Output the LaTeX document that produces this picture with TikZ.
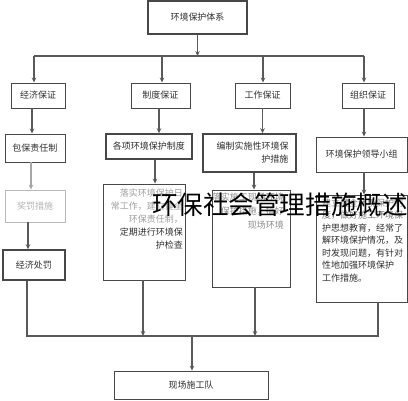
\documentclass[tikz,border=0pt]{standalone}
\usepackage{fontspec}
\newfontfamily\cjk{Noto Sans CJK SC}
\usetikzlibrary{arrows.meta}
\begin{document}
\begin{tikzpicture}[x=1pt,y=-1pt,
  box/.style={draw=black!72, line width=0.9pt, inner sep=0pt, font=\cjk\fontsize{9}{13}\selectfont, text=black!82},
  heavybox/.style={box, line width=1.5pt},
  paletext/.style={inner sep=0pt, font=\cjk\fontsize{9}{13}\selectfont, text=black!82},
  conn/.style={draw=black!65, line width=1.1pt},
  arr/.style={conn, -{Stealth[length=5pt,width=4.5pt]}},
]
\useasboundingbox (0,0) rectangle (408,400);
% top
\node[box, line width=1.1pt, minimum width=99pt, minimum height=33pt] (top) at (197.5,17.5) {环境保护体系};
% level 2
\node[box, minimum width=54pt, minimum height=25pt] (l2a) at (38,95.5) {经济保证};
\node[box, minimum width=59pt, minimum height=25pt] (l2b) at (160.5,95.5) {制度保证};
\node[box, minimum width=55pt, minimum height=25pt] (l2c) at (262.5,95.5) {工作保证};
\node[box, minimum width=52pt, minimum height=25pt] (l2d) at (368,95.5) {组织保证};
% level 3
\node[box, minimum width=60pt, minimum height=28pt] (l3a) at (35,148) {包保责任制};
\node[heavybox, minimum width=86pt, minimum height=25pt] (l3b) at (149,146.5) {各项环境保护制度};
\node[heavybox, minimum width=93pt, minimum height=38pt, text width=78pt, align=right] (l3c) at (249.5,153) {编制实施性环境保\\护措施};
\node[box, minimum width=91pt, minimum height=35pt] (l3d) at (361.5,154.5) {环境保护领导小组};
% level 4
\node[box, draw=black!28, text=black!30, minimum width=60pt, minimum height=32pt] (l4a) at (35,206) {奖罚措施};
\node[heavybox, minimum width=62pt, minimum height=30pt] (l5a) at (34,265) {经济处罚};
\node[box, minimum width=82pt, minimum height=96pt] (l4b) at (144,232) {};
\node[box, minimum width=78pt, minimum height=97pt] (l4c) at (251,238.5) {};
\node[box, minimum width=91pt, minimum height=107pt] (l4d) at (361.5,248.5) {};
\node[paletext, anchor=north east, align=right] (t4b) at (183,188.5)
  {{\color{black!38}落实环境保护日}\\{\color{black!38}常工作，建立健全}\\{\color{black!38}环保责任制，}\\定期进行环境保\\护检查};
\node[paletext, anchor=north east, align=right, text=black!45, font=\cjk\fontsize{9}{14}\selectfont] (t4c) at (284,192.5)
  {落实施工现场环境\\保护措施，搞好\\现场环境};
\node[paletext, anchor=north west, align=left, font=\cjk\fontsize{9}{12.5}\selectfont] (t4d) at (322,198.2)
  {{\color{black!45}建立健全环境保护制}\\{\color{black!55}度，做好施工环境保}\\护思想教育，经常了\\解环境保护情况，及\\时发现问题，有针对\\性地加强环境保护\\工作措施。};
% bottom
\node[box, minimum width=154pt, minimum height=28pt] (bot) at (191,385) {现场施工队};
% overlay title
\node[inner sep=0pt, font=\cjk\fontsize{25.6}{26}\selectfont, text=black] (title) at (280,205) {环保社会管理措施概述};
% connectors: top level
\coordinate (j1) at (34,56);
\coordinate (j2) at (162,56);
\coordinate (j3) at (263,56);
\coordinate (j4) at (364,56);
\draw[arr] (top) -- (top |- j1);
\draw[conn] (j1) -- (j4);
\draw[arr] (j1) -- (j1 |- l2a.north);
\draw[arr] (j2) -- (j2 |- l2b.north);
\draw[arr] (j3) -- (j3 |- l2c.north);
\draw[arr] (j4) -- (j4 |- l2d.north);
% level 2 -> 3
\draw[arr] ([xshift=-6pt]l2a.south) -- ([xshift=-6pt]l2a.south |- l3a.north);
\draw[arr] ([xshift=-1.5pt]l2b.south) -- ([xshift=-1.5pt]l2b.south |- l3b.north);
\draw[arr] (l2c.south) -- (l2c.south |- l3c.north);
\draw[arr] ([xshift=-4pt]l2d.south) -- ([xshift=-4pt]l2d.south |- l3d.north);
% level 3 -> 4
\draw[arr, draw=black!35] ([xshift=-4pt]l3a.south) -- ([xshift=-4pt]l3a.south |- l4a.north);
\draw[arr] ([xshift=6pt]l3b.south) -- ([xshift=6pt]l3b.south |- l4b.north);
\draw[arr] ([xshift=4.5pt]l3c.south) -- ([xshift=4.5pt]l3c.south |- l4c.north);
\draw[arr] ([xshift=2.5pt]l3d.south) -- ([xshift=2.5pt]l3d.south |- l4d.north);
\draw[arr] ([xshift=-7pt]l4a.south) -- ([xshift=-7pt]l4a.south |- l5a.north);
% bottom bus
\coordinate (k1) at (27,336);
\coordinate (k2) at (143,336);
\coordinate (k3) at (255,336);
\coordinate (k4) at (378,336);
\coordinate (k0) at (192,336);
\draw[conn] (k1 |- l5a.south) -- (k1) -- (k4) -- (k4 |- l4d.south);
\draw[arr] (k2 |- l4b.south) -- (k2);
\draw[arr] (k3 |- l4c.south) -- (k3);
\draw[arr] (k0) -- (k0 |- bot.north);
\end{tikzpicture}
\end{document}
